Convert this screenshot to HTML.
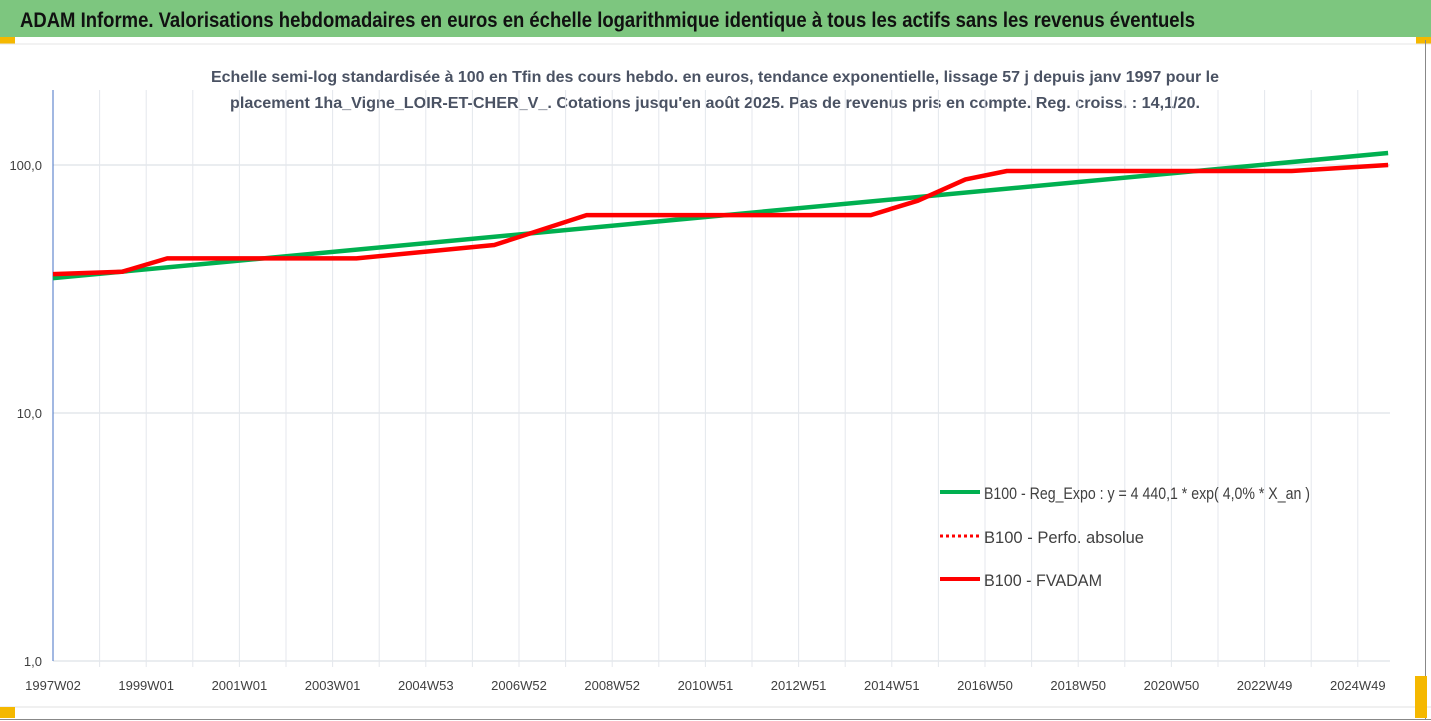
<!DOCTYPE html>
<html><head><meta charset="utf-8"><style>
html,body{margin:0;padding:0;background:#fff;width:1431px;height:721px;overflow:hidden;font-family:"Liberation Sans",sans-serif;}
</style></head><body>
<svg id="chart" width="1431" height="721" xmlns="http://www.w3.org/2000/svg" font-family="Liberation Sans, sans-serif">
<rect x="0" y="0" width="1431" height="721" fill="#fff"/>
<rect x="0" y="0" width="1431" height="37" fill="#7dc67f"/>
<text x="20" y="27" font-size="21" font-weight="bold" fill="#111" textLength="1175" lengthAdjust="spacingAndGlyphs">ADAM Informe. Valorisations hebdomadaires en euros en échelle logarithmique identique à tous les actifs sans les revenus éventuels</text>
<rect x="0" y="37" width="15" height="7" fill="#f5b800"/>
<rect x="1416" y="37" width="15" height="7" fill="#f5b800"/>
<line x1="0" y1="44" x2="1431" y2="44" stroke="#e6e6e6"/>
<line x1="0" y1="707" x2="1431" y2="707" stroke="#e0e0e0"/>
<line x1="0" y1="719.5" x2="1431" y2="719.5" stroke="#888"/>
<line x1="1425.5" y1="40" x2="1425.5" y2="720" stroke="#888"/>
<rect x="0" y="707" width="15" height="11" fill="#f5b800"/>
<rect x="1415" y="676" width="12" height="42" fill="#f5b800"/>
<text x="715" y="82" font-size="16" font-weight="bold" fill="#4a5263" text-anchor="middle" textLength="1008" lengthAdjust="spacingAndGlyphs">Echelle semi-log standardisée à 100 en Tfin des cours hebdo. en euros, tendance exponentielle, lissage 57 j depuis janv 1997 pour le</text>
<text x="715" y="108" font-size="16" font-weight="bold" fill="#4a5263" text-anchor="middle" textLength="970" lengthAdjust="spacingAndGlyphs">placement 1ha_Vigne_LOIR-ET-CHER_V_. Cotations jusqu'en août 2025. Pas de revenus pris en compte. Reg. croiss. : 14,1/20.</text>
<g id="grid"></g>
<g id="axes"></g>
<g id="series"></g>
<g id="legend">
<line x1="940" y1="492" x2="980" y2="492" stroke="#00b050" stroke-width="4"/>
<text x="984" y="499" font-size="17" fill="#404040" textLength="326" lengthAdjust="spacingAndGlyphs">B100 - Reg_Expo : y = 4 440,1 * exp( 4,0% *  X_an )</text>
<line x1="940" y1="536" x2="980" y2="536" stroke="#ff0000" stroke-width="3" stroke-dasharray="3,3"/>
<text x="984" y="543" font-size="17" fill="#404040" textLength="160" lengthAdjust="spacingAndGlyphs">B100 - Perfo. absolue</text>
<line x1="940" y1="579" x2="980" y2="579" stroke="#ff0000" stroke-width="4"/>
<text x="984" y="586" font-size="17" fill="#404040" textLength="118" lengthAdjust="spacingAndGlyphs">B100 - FVADAM</text>
</g>
</svg>
<script>
const xLabels=["1997W02","1999W01","2001W01","2003W01","2004W53","2006W52","2008W52","2010W51","2012W51","2014W51","2016W50","2018W50","2020W50","2022W49","2024W49"];
const yTicks=[1,10,100];
const yTickLabels=["1,0","10,0","100,0"];
const fvYears=[0,1.48,2.45,6.51,9.47,11.45,17.55,18.56,19.58,20.47,26.58,28.65];
const fvValues=[36.3,37.1,42.0,42.0,47.6,62.8,62.8,71.8,87.5,94.6,94.6,100];
const regYears=[0,28.65];
const regValues=[35.0,111.8];

const X0=53,XW=46.6,Y1=661,DEC=248,YTOP=90,XEND=1390;
const sx=t=>X0+t*XW;
const sy=v=>Y1-DEC*Math.log10(v);
const NS="http://www.w3.org/2000/svg";
function mk(tag,attrs,parent){const e=document.createElementNS(NS,tag);for(const k in attrs)e.setAttribute(k,attrs[k]);parent.appendChild(e);return e;}
const grid=document.getElementById('grid'),axes=document.getElementById('axes'),series=document.getElementById('series');
for(let k=1;sx(k)<=XEND;k++){
  const l=mk('line',{x1:sx(k),y1:YTOP,x2:sx(k),y2:Y1+6,stroke:'#e4e7ec'},grid);
  
  
}
yTicks.forEach((v,i)=>{
  const l=mk('line',{x1:X0,y1:sy(v),x2:XEND,y2:sy(v),stroke:'#e4e7ec','stroke-width':1.5},grid);
  
  
  const t=mk('text',{x:42,y:sy(v)+5,'font-size':13,fill:'#404040','text-anchor':'end'},axes);
  t.textContent=yTickLabels[i];
  
  
});
xLabels.forEach((s,i)=>{
  const t=mk('text',{x:sx(i*2),y:690,'font-size':13,fill:'#404040','text-anchor':'middle'},axes);
  t.textContent=s;
  
  
});
const ax=mk('line',{x1:X0,y1:YTOP,x2:X0,y2:Y1,stroke:'#4472c4','stroke-width':1},axes);


function pts(xs,vs){return xs.map((t,i)=>sx(t).toFixed(1)+','+sy(vs[i]).toFixed(1)).join(' ');}
const g=mk('polyline',{points:pts(regYears,regValues),fill:'none',stroke:'#00b050','stroke-width':4.5},series);


const d=mk('polyline',{points:pts(fvYears,fvValues),fill:'none',stroke:'#ff0000','stroke-width':3,'stroke-dasharray':'3,3'},series);


const r=mk('polyline',{points:pts(fvYears,fvValues),fill:'none',stroke:'#ff0000','stroke-width':4.5,'stroke-linejoin':'round'},series);


</script>
</body></html>
